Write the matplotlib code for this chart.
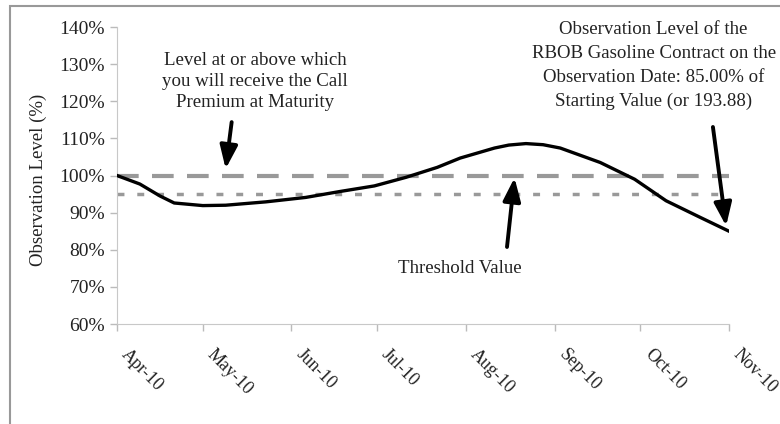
import matplotlib
matplotlib.use('Agg')
import matplotlib.pyplot as plt
import matplotlib.dates as mdates
import matplotlib.transforms as mtransforms
from matplotlib.patches import Rectangle
import pandas as pd

# Данные
dates = ['2010-04-01', '2010-04-09', '2010-04-16', '2010-04-21', '2010-05-01',
         '2010-05-09', '2010-05-23', '2010-06-06', '2010-06-18', '2010-06-30',
         '2010-07-11', '2010-07-22', '2010-07-30', '2010-08-11', '2010-08-16',
         '2010-08-22', '2010-08-28', '2010-09-03', '2010-09-17', '2010-09-29',
         '2010-10-10', '2010-10-22', '2010-11-01']
levels = [1.000, 0.977, 0.945, 0.926, 0.919,
          0.920, 0.929, 0.941, 0.957, 0.972,
          0.995, 1.022, 1.047, 1.074, 1.082,
          1.086, 1.083, 1.074, 1.035, 0.990,
          0.932, 0.887, 0.850]
call_level = 1.00
threshold = 0.95
month_ticks = ['2010-04-01', '2010-05-01', '2010-06-01', '2010-07-01',
               '2010-08-01', '2010-09-01', '2010-10-01', '2010-11-01']
y_ticks = [0.6, 0.7, 0.8, 0.9, 1.0, 1.1, 1.2, 1.3, 1.4]

x = pd.to_datetime(dates)
ticks = pd.to_datetime(month_ticks)

plt.rcParams['font.family'] = ['Liberation Serif', 'DejaVu Serif']
txt = '#222222'
fs = 13.6

fig = plt.figure(figsize=(7.8, 4.24), dpi=100)
ax = fig.add_axes([0.15, 0.2358, 0.7846, 0.7005])

ax.axhline(call_level, color='#999999', lw=3, dashes=(5.2, 3.2))
ax.axhline(threshold, color='#999999', lw=2.5, dashes=(2, 3.7))
ax.plot(x, levels, color='black', lw=2.4, zorder=3)

ax.set_xlim(ticks[0], ticks[-1])
ax.set_ylim(0.6, 1.4)
ax.set_yticks(y_ticks)
ax.set_yticklabels(['%d%%' % round(v * 100) for v in y_ticks])
ax.set_xticks(ticks)
ax.set_xticklabels([t.strftime('%b-%y') for t in ticks], rotation=-45,
                   ha='left', va='top', rotation_mode='anchor')
ax.tick_params(axis='both', labelsize=14, colors='#bbbbbb', labelcolor=txt,
               length=5, width=1)
ax.tick_params(axis='x', pad=11, labelsize=13)
shift = mtransforms.ScaledTranslation(13 / 100, 0, fig.dpi_scale_trans)
for lab in ax.get_xticklabels():
    lab.set_transform(lab.get_transform() + shift)
for s in ['top', 'right']:
    ax.spines[s].set_visible(False)
for s in ['left', 'bottom']:
    ax.spines[s].set_color('#c8c8c8')

fig.text(38 / 780, 0.575, 'Observation Level (%)', rotation=90,
         ha='center', va='center', fontsize=13.5, color=txt)

# Подписи и стрелки
fig.text(0.327, 0.807, 'Level at or above which\nyou will receive the Call\nPremium at Maturity',
         ha='center', va='center', fontsize=fs, color=txt, linespacing=1.3)
fig.text(0.838, 0.8455, 'Observation Level of the\nRBOB Gasoline Contract on the\n'
         'Observation Date: 85.00% of\nStarting Value (or 193.88)',
         ha='center', va='center', fontsize=fs, color=txt, linespacing=1.53)
fig.text(0.59, 0.366, 'Threshold Value', ha='center', va='center',
         fontsize=fs, color=txt)

arrow = dict(arrowstyle='-|>,head_width=0.38,head_length=1.0', color='black',
             lw=2.8, mutation_scale=14, shrinkA=0, shrinkB=0)
ax.annotate('', xy=(pd.Timestamp('2010-05-09'), 1.018), xycoords='data',
            xytext=(0.297, 0.712), textcoords='figure fraction', arrowprops=arrow)
ax.annotate('', xy=(pd.Timestamp('2010-08-18'), 0.994), xycoords='data',
            xytext=(0.65, 0.4175), textcoords='figure fraction', arrowprops=arrow)
ax.annotate('', xy=(pd.Timestamp('2010-10-31'), 0.864), xycoords='data',
            xytext=(0.914, 0.7005), textcoords='figure fraction', arrowprops=arrow)

# Рамка вокруг всего графика
fig.patches.append(Rectangle((10 / 780, -0.1), 1.2, 1 - 6 / 424 + 0.1,
                             transform=fig.transFigure, fill=False,
                             edgecolor='#999999', lw=1.5))

fig.savefig('out.png', dpi=100)
